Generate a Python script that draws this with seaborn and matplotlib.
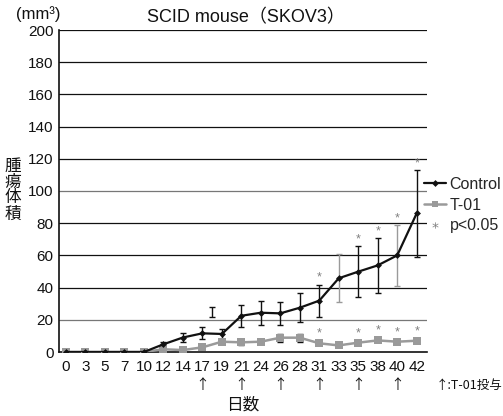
import matplotlib
matplotlib.use("Agg")
import matplotlib.pyplot as plt
import seaborn as sns
import pandas as pd
from matplotlib.lines import Line2D

# Tumour volume (mm³) measured on each day
days = [0, 3, 5, 7, 10, 12, 14, 17, 19, 21, 24, 26, 28, 31, 33, 35, 38, 40, 42]
control = [0, 0, 0, 0, 0, 4.8, 9.0, 11.6, 11.2, 22.5, 24.4, 24.0, 27.5, 31.9,
           45.8, 49.9, 53.8, 60.0, 86.1]
control_sd = [0, 0, 0, 0, 0, 1.5, 2.5, 3.7, 3.3, 7.0, 7.5, 7.0, 9.0, 10.0,
              15.0, 15.7, 17.0, 19.0, 27.0]
t01 = [0, 0, 0, 0, 0, 1.7, 1.2, 2.9, 6.4, 6.0, 6.4, 8.9, 8.9, 5.4, 4.1, 5.8,
       7.2, 6.4, 7.0]
t01_sd = [0, 0, 0, 0, 0, 0, 0, 0, 1.5, 1.5, 1.5, 2.5, 2.5, 0, 0, 0, 0, 0, 0]
signif_days = [31, 35, 38, 40, 42]
dose_days = [17, 21, 26, 31, 35, 40]
# a lone error bar drawn between day 17 and day 19
stray_pos = [7.5]
stray_val = [25.0]
stray_err = [3.0]

yticks = list(range(0, 201, 20))

sns.set_theme(style="white")
plt.rcParams["font.family"] = ["Liberation Sans", "Noto Sans CJK JP", "DejaVu Sans"]
cjk = ["Noto Sans CJK JP", "DejaVu Sans"]

pos = list(range(len(days)))
df = pd.DataFrame({
    "pos": pos * 2,
    "vol": control + t01,
    "group": ["Control"] * len(days) + ["T-01"] * len(days),
})

BLACK = "#111111"
GREY = "#9a9a9a"
STAR = "#808080"

fig = plt.figure(figsize=(5.03, 4.16), dpi=100)
ax = fig.add_axes([59 / 503, 1 - 352 / 416, (427 - 59) / 503, (352 - 30) / 416])

# gridlines
for v in yticks[1:]:
    ax.axhline(v, color="#777777" if v in (20, 100) else BLACK, lw=0.9, zorder=0)

# error bars
ax.errorbar(pos, t01, yerr=t01_sd, fmt="none", ecolor=BLACK, elinewidth=1.0,
            capsize=2.3, capthick=1.0, zorder=2)
ctrl_ecol = [GREY if d in (33, 40) else BLACK for d in days]
for p, v, e, c in zip(pos, control, control_sd, ctrl_ecol):
    if e > 0:
        ax.errorbar([p], [v], yerr=[e], fmt="none", ecolor=c, elinewidth=1.0,
                    capsize=2.3, capthick=1.0, zorder=3)
ax.errorbar(stray_pos, stray_val, yerr=stray_err, fmt="none", ecolor=BLACK,
            elinewidth=1.0, capsize=2.3, capthick=1.0, zorder=3)

sns.lineplot(data=df[df.group == "T-01"], x="pos", y="vol", ax=ax, color=GREY,
             lw=1.8, marker="s", markersize=5.5, markeredgewidth=0, zorder=4,
             legend=False)
sns.lineplot(data=df[df.group == "Control"], x="pos", y="vol", ax=ax,
             color=BLACK, lw=1.6, marker="D", markersize=3.5,
             markeredgewidth=0, zorder=5, legend=False)

# significance marks
for d in signif_days:
    i = days.index(d)
    ax.annotate("*", (i, control[i] + control_sd[i]), xytext=(0, 0.5),
                textcoords="offset points", ha="center", va="bottom",
                color=STAR, fontsize=9)
    ax.annotate("*", (i, t01[i] + t01_sd[i]), xytext=(0, 2.5),
                textcoords="offset points", ha="center", va="bottom",
                color=STAR, fontsize=9)

ax.set_xlim(-0.36, 18.53)
ax.set_ylim(0, 200)
ax.set_yticks(yticks)
ax.set_yticklabels([str(v) for v in yticks], fontsize=11)
ax.set_xticks(pos)
ax.set_xticklabels([str(d) for d in days], fontsize=11)
ax.tick_params(axis="both", length=0, pad=4, colors="#111111")
ax.tick_params(axis="x", pad=6)
ax.set_xlabel("")
ax.set_ylabel("")
for s in ("top", "right"):
    ax.spines[s].set_visible(False)
for s in ("left", "bottom"):
    ax.spines[s].set_color(BLACK)
    ax.spines[s].set_linewidth(1.2)

# dosing arrows under the day labels
for d in dose_days:
    ax.annotate("↑", (days.index(d), 0), xytext=(0, -24),
                textcoords="offset points", ha="center", va="center",
                fontsize=10, family=cjk, color=BLACK)

fig.text(436 / 503, 1 - 385 / 416, "↑:T-01投与", fontsize=9, family=cjk,
         ha="left", va="center", color=BLACK)

fig.text(246 / 503, 1 - 18 / 416, "SCID mouse（SKOV3）", fontsize=13,
         ha="center", va="center", color=BLACK)
fig.text(38 / 503, 1 - 14 / 416, "(mm³)", fontsize=12, ha="center",
         va="center", color=BLACK)
fig.text(13 / 503, 1 - 190 / 416, "腫\n瘍\n体\n積", fontsize=12, family=cjk,
         ha="center", va="center", linespacing=0.92, color=BLACK)
fig.text(243 / 503, 1 - 405 / 416, "日数", fontsize=12, family=cjk,
         ha="center", va="center", color=BLACK)

handles = [
    Line2D([], [], color=BLACK, lw=1.6, marker="D", markersize=3.5,
           markeredgewidth=0),
    Line2D([], [], color=GREY, lw=1.8, marker="s", markersize=5,
           markeredgewidth=0),
    Line2D([], [], color=STAR, lw=0, marker="$*$", markersize=4.5,
           markeredgewidth=0),
]
fig.legend(handles, ["Control", "T-01", "p<0.05"], loc="center left",
           bbox_to_anchor=(424 / 503, 1 - 205 / 416), frameon=False,
           fontsize=11.5, handlelength=1.4, handletextpad=0.2,
           labelspacing=0.35, borderaxespad=0, borderpad=0)

fig.savefig("out.png", dpi=100)
